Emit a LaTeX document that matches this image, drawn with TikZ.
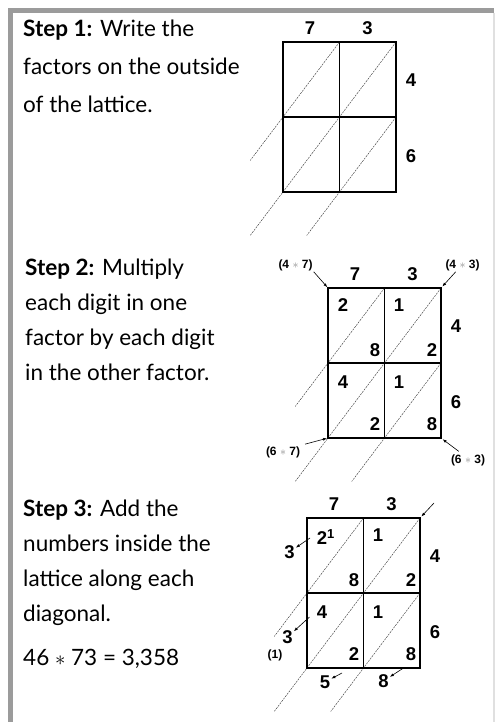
\documentclass[tikz,border=0pt]{standalone}
\usepackage{fontspec}
\setmainfont{Lato}
\newfontfamily\digitfont{Liberation Sans}
\usepackage{xcolor}
\definecolor{framegray}{HTML}{9B9B9B}
\definecolor{edgegray}{HTML}{E0E0E0}
\usetikzlibrary{arrows.meta, calc}

\begin{document}
\begin{tikzpicture}[x=1pt, y=-1pt, >={Latex[length=4pt, width=3pt]},
  latticeline/.style={line width=1.6pt},
  diag/.style={line width=0.45pt, dash pattern=on 2pt off 1pt, black!75},
  digit/.style={font=\digitfont\bfseries\fontsize{18.5}{20}\selectfont, inner sep=1pt},
  note/.style={font=\digitfont\bfseries\fontsize{12}{14}\selectfont, inner sep=1pt},
  steptext/.style={font=\fontsize{22.5}{35}\selectfont, align=left,
                   anchor=north west, inner sep=0pt},
  pointer/.style={->, line width=0.6pt}]

  \useasboundingbox (0,0) rectangle (495,722);

  % frame
  \fill[framegray] (8,8) rectangle (494,13);
  \fill[framegray] (8,8) rectangle (13,722);
  \draw[edgegray, line width=1.5pt] (494,13) -- (494,722);

  % the three lattices with their factors
  \foreach \x/\y/\n in {283/42/a, 328/288/b, 307/518/c} {
    \begin{scope}[shift={(\x,\y)}]
      \coordinate (\n-tl) at (0,0);
      \coordinate (\n-tr) at (113,0);
      \coordinate (\n-bl) at (0,150);
      \coordinate (\n-br) at (113,150);
      \draw[diag] (56.5,0) -- (-32.8,118.5);
      \draw[diag] (113,0) -- (-32.8,193.5);
      \draw[diag] (113,75) -- (23.7,193.5);
      \draw[latticeline] (\n-tl) rectangle (\n-br);
      \draw[latticeline] (56.5,0) -- (56.5,150) (0,75) -- (113,75);
      \node[digit] (\n-top7) at (27,-14) {7};
      \node[digit] (\n-top3) at (84.5,-14) {3};
      \node[digit] (\n-side4) at (128,38) {4};
      \node[digit] (\n-side6) at (128,114.5) {6};
    \end{scope}
  }

  % partial products
  \foreach \x/\y/\n in {328/288/b, 307/518/c}
    \foreach \dx/\dy/\d [count=\i] in {47/62/8, 71/17/1, 104/62/2, 15/94/4,
                                       47/136/2, 71/94/1, 104/136/8}
      \node[digit] (\n-d\i) at (\x+\dx, \y+\dy) {\d};
  \node[digit] (b-d0) at (343,305) {2};
  \node[digit] (c-d0) at (322,537) {2\rlap{\textsuperscript{1}}};

  % step 1
  \node[steptext] (step1) at (23,20)
    {\textbf{Step 1:} Write the\\[3pt]factors on the outside\\[3pt]of the lattice.};

  % step 2
  \node[steptext] (step2) at (25,259)
    {\textbf{Step 2:} Multiply\\each digit in one\\factor by each digit\\in the other factor.};
  \node[note] (p47) at (295.5,265) {(4 {\color{black!45}$\ast$} 7)};
  \node[note] (p43) at (462.5,265) {(4 {\color{black!45}$\ast$} 3)};
  \node[note] (p67) at (283,452) {(6 {\color{black!45}$\ast$} 7)};
  \node[note] (p63) at (468,460) {(6 {\color{black!45}$\ast$} 3)};
  \draw[pointer, shorten >=1pt] (p47.south east) -- (b-tl);
  \draw[pointer, shorten >=2pt] (p43.225) -- (b-tr);
  \draw[pointer, shorten <=4pt, shorten >=1pt] (p67.north east) -- (b-bl);
  \draw[pointer, shorten <=3pt, shorten >=2pt] (p63.135) -- (b-br);

  % step 3
  \node[steptext] (step3) at (23,500)
    {\textbf{Step 3:} Add the\\numbers inside the\\lattice along each\\diagonal.\\[9pt]46 $\ast$ 73 = 3,358};
  \coordinate (c-in) at (434,503);
  \draw[pointer, shorten >=2pt] (c-in) -- (c-tr);
  \node[digit] (sum1) at (289.5,552) {3};
  \node[digit] (sum2) at (287.5,637) {3};
  \node[note] (carry) at (275,655) {(1)};
  \node[digit] (sum3) at (325,682) {5};
  \node[digit] (sum4) at (383.5,681) {8};
  \coordinate (s1-from) at (310,538);
  \coordinate (s2-from) at (309.5,617);
  \coordinate (s3-from) at (342,673);
  \coordinate (s4-from) at (403.5,668);
  \draw[pointer] (s1-from) -- (sum1);
  \draw[pointer] (s2-from) -- (sum2);
  \draw[pointer] (s3-from) -- (sum3);
  \draw[pointer] (s4-from) -- (sum4);

\end{tikzpicture}
\end{document}
